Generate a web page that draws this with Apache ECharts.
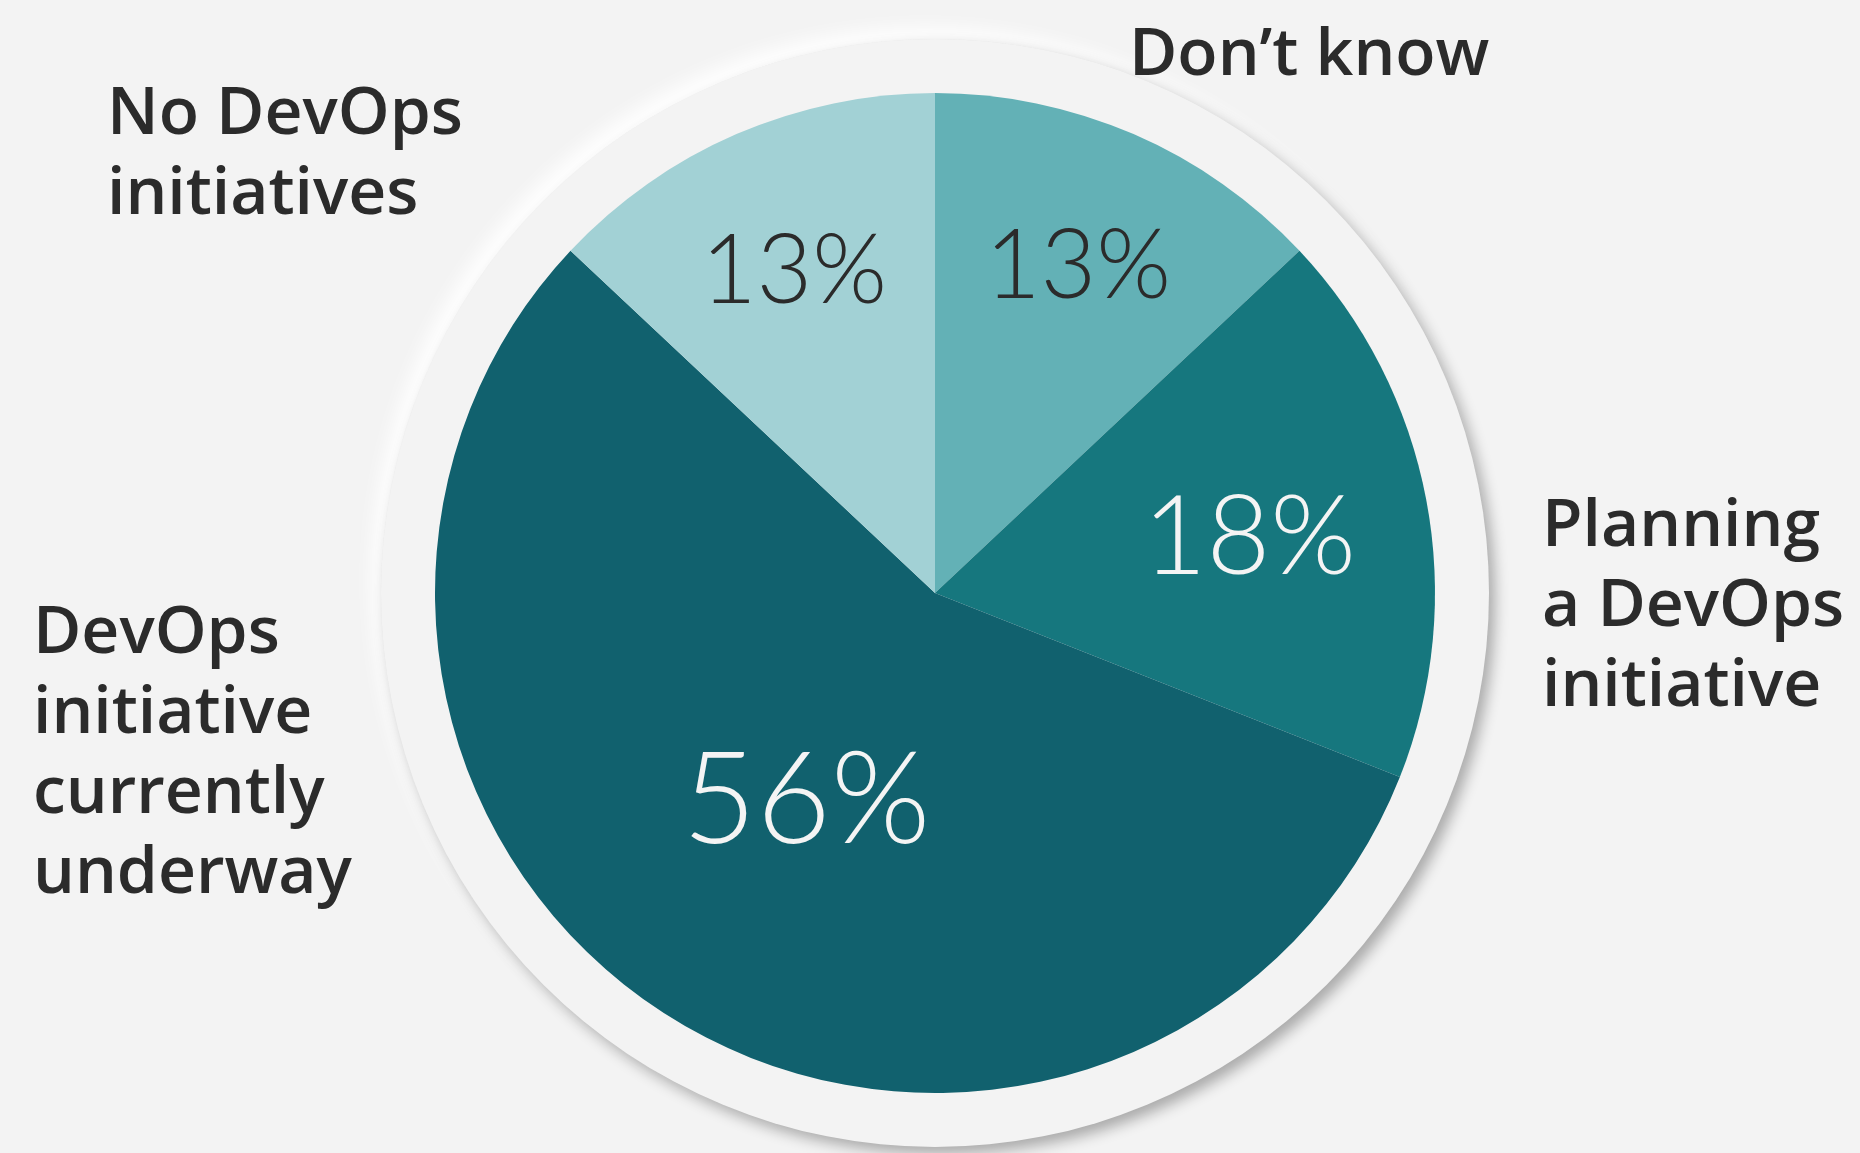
<!DOCTYPE html>
<html>
<head>
<meta charset="utf-8">
<style>
  html, body { margin: 0; padding: 0; background: #f3f3f3; }
  #main { width: 1860px; height: 1153px; }
</style>
</head>
<body>
<div id="main"></div>
<script src="https://cdn.jsdelivr.net/npm/echarts@6/dist/echarts.min.js"></script>
<script>
// data, clockwise from 12 o'clock
var categories = ['Don’t know', 'Planning\na DevOps\ninitiative', 'DevOps\ninitiative\ncurrently\nunderway', 'No DevOps\ninitiatives']
var shares = [13, 18, 56, 13]

// styling
var sliceColors = ['#63b1b6', '#16777e', '#11616e', '#a2d1d5']
var pctColors = ['#2b2b2b', '#f4f4f4', '#f4f4f4', '#2b2b2b']
var pctSizes = [96, 110, 128, 96]
var pctDepth = [0.72, 0.64, 0.48, 0.71] // how far out along the radius
var namePos = [[1129, 16], [1542, 487], [33, 594], [107, 75]]

var cx = 935
var cy = 593
var r = 500
var bg = '#f3f3f3'

function midAngle(i) {
  var total = shares.reduce(function(a, b) { return a + b }, 0)
  var before = 0
  for (var k = 0; k < i; k++) before += shares[k]
  var frac = (before + shares[i] / 2) / total
  return (90 - 360 * frac) * Math.PI / 180
}

var chart = echarts.init(document.getElementById('main'))

chart.setOption({
  backgroundColor: bg,
  animation: false,
  graphic: [
    {
      // light rim, top left
      type: 'circle',
      z: -20,
      shape: { cx: cx, cy: cy, r: 554 },
      style: {
        fill: bg,
        shadowColor: 'rgba(255,255,255,0.9)',
        shadowBlur: 18,
        shadowOffsetX: -10,
        shadowOffsetY: -12
      }
    },
    {
      // drop shadow, bottom right
      type: 'circle',
      z: -10,
      shape: { cx: cx, cy: cy, r: 554 },
      style: {
        fill: bg,
        shadowColor: 'rgba(0,0,0,0.3)',
        shadowBlur: 14,
        shadowOffsetX: 6,
        shadowOffsetY: 7
      }
    }
  ],
  series: [
    {
      type: 'pie',
      center: [cx, cy],
      radius: [0, r],
      startAngle: 90,
      clockwise: true,
      silent: true,
      avoidLabelOverlap: false,
      labelLine: { show: false },
      data: shares.map(function(v, i) {
        return {
          value: v,
          name: categories[i],
          itemStyle: { color: sliceColors[i] },
          label: { color: pctColors[i], fontSize: pctSizes[i] }
        }
      }),
      label: {
        show: true,
        position: 'inside',
        formatter: '{c}%',
        fontFamily: 'Lato',
        fontWeight: 300
      },
      labelLayout: function(p) {
        var i = p.dataIndex
        var a = midAngle(i)
        var d = r * pctDepth[i]
        return {
          x: cx + d * Math.cos(a),
          y: cy - d * Math.sin(a) + pctSizes[i] * 0.05,
          align: 'center',
          verticalAlign: 'middle'
        }
      }
    },
    {
      // category names
      type: 'pie',
      center: [cx, cy],
      radius: [0, r],
      startAngle: 90,
      clockwise: true,
      silent: true,
      avoidLabelOverlap: false,
      itemStyle: { color: 'rgba(0,0,0,0)' },
      labelLine: { show: false },
      data: shares.map(function(v, i) {
        return { value: v, name: categories[i] }
      }),
      label: {
        show: true,
        position: 'outside',
        formatter: '{b}',
        color: '#2b2b2b',
        fontFamily: 'Open Sans',
        fontWeight: 600,
        fontSize: 66,
        lineHeight: 80
      },
      labelLayout: function(p) {
        var pos = namePos[p.dataIndex]
        return { x: pos[0], y: pos[1], align: 'left', verticalAlign: 'top' }
      }
    }
  ]
})
</script>
</body>
</html>
